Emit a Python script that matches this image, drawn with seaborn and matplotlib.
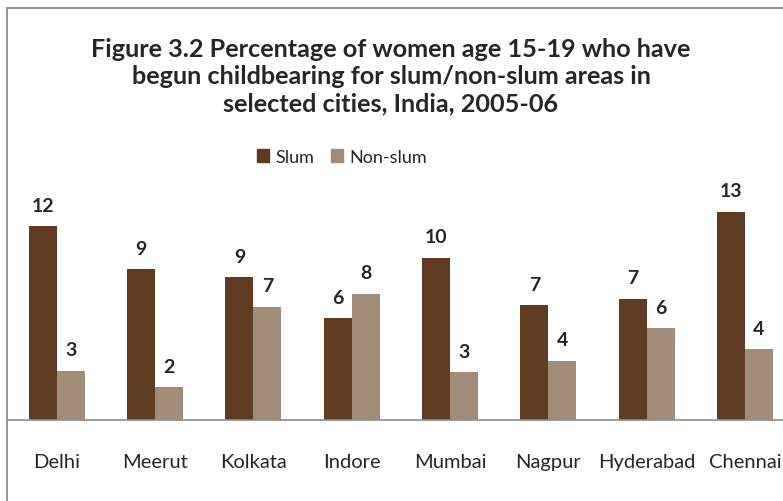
import matplotlib
matplotlib.use("Agg")
import matplotlib.pyplot as plt
import matplotlib.patches as mpatches
import pandas as pd
import seaborn as sns

# values
cities = ["Delhi", "Meerut", "Kolkata", "Indore", "Mumbai", "Nagpur", "Hyderabad", "Chennai"]
slum = [11.8, 9.2, 8.7, 6.2, 9.9, 7.0, 7.4, 12.7]
non_slum = [3.0, 2.0, 6.9, 7.7, 2.9, 3.6, 5.6, 4.3]
series = ["Slum", "Non-slum"]
colors = ["#5E3B21", "#A18B79"]

df = pd.DataFrame({
    "City": cities * 2,
    "Area": [series[0]] * len(cities) + [series[1]] * len(cities),
    "Pct": slum + non_slum,
})

sns.set_style("white")
plt.rcParams["font.family"] = ["Lato", "DejaVu Sans"]

fig = plt.figure(figsize=(7.83, 5.02), dpi=100)
W, H = 783, 502
ax = fig.add_axes([7.7 / W, 81 / H, 786.3 / W, 229.6 / H])

sns.barplot(data=df, x="City", y="Pct", hue="Area", order=cities,
            hue_order=series, palette=colors, width=0.57, saturation=1,
            edgecolor="none", ax=ax)
ax.get_legend().remove()

for cont in ax.containers:
    ax.bar_label(cont, fmt="%.0f", padding=9, fontsize=14, fontweight="bold")

ax.set_xlim(-0.5, len(cities) - 0.5)
ax.set_ylim(0, 14)
ax.set_xlabel("")
ax.set_ylabel("")
ax.set_yticks([])
for s in ["top", "right", "left"]:
    ax.spines[s].set_visible(False)
ax.spines["bottom"].set_color("#8C8C8C")
ax.spines["bottom"].set_linewidth(1.2)

ax.set_xticks(range(len(cities)))
ax.set_xticklabels(cities, fontsize=14.5)
ax.tick_params(axis="x", which="major", length=0, pad=24)
ax.set_xticks([i + 0.5 for i in range(len(cities) - 1)], minor=True)
ax.tick_params(axis="x", which="minor", length=5, color="#8C8C8C", width=1.2)

# chart border (cropped on the right and bottom)
border = mpatches.Rectangle((7 / W, -0.2), 1.2, (H - 9) / H + 0.2,
                            transform=fig.transFigure, fill=False,
                            edgecolor="#8C8C8C", linewidth=1.3, clip_on=False)
fig.patches.append(border)

fig.text(391 / W, 1 - 77 / H,
         "Figure 3.2 Percentage of women age 15-19 who have\n"
         "begun childbearing for slum/non-slum areas in\n"
         "selected cities, India, 2005-06",
         ha="center", va="center", fontsize=18.2, fontweight="bold",
         linespacing=1.22)

handles = [mpatches.Patch(color=c, label=l) for c, l in zip(colors, series)]
fig.legend(handles=handles, loc="center", bbox_to_anchor=(342 / W, 1 - 158 / H),
           ncol=2, frameon=False, fontsize=13, handlelength=0.7,
           handleheight=0.7, handletextpad=0.35, columnspacing=0.9)

fig.savefig("out.png", dpi=100)
